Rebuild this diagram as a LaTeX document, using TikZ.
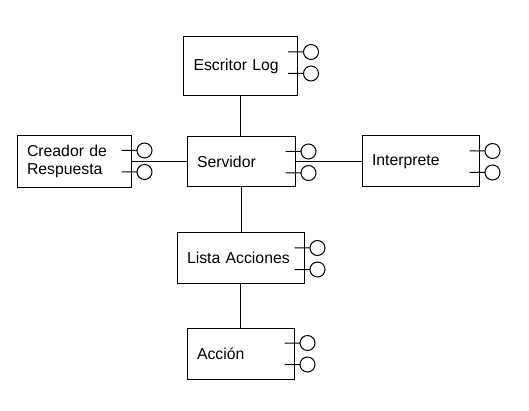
\documentclass[tikz,border=0pt]{standalone}
\usepackage{fontspec}
\setmainfont{Liberation Sans}
\begin{document}
\begin{tikzpicture}[x=1pt, y=-1pt, line width=1pt,
            comp/.style={draw, inner xsep=10pt, align=left, font=\fontsize{15.8}{18}\selectfont}]
                \useasboundingbox (0,0) rectangle (529,411);
                \node[comp, text width=94pt, minimum height=59pt](log) at (240.5, 66.5) {Escritor Log};
                \node[comp, text width=88pt, minimum height=50pt](serv) at (241, 161.5) {Servidor};
                \node[comp, text width=94pt, minimum height=52pt](cre) at (74, 161.5) {Creador de\\Respuesta};
                \node[comp, text width=97pt, minimum height=51pt](int) at (420.5, 161.5) {Interprete};
                \node[comp, text width=107pt, minimum height=50pt](lista) at (240.5, 258) {Lista Acciones};
                \node[comp, text width=87pt, minimum height=51pt](acc) at (240.5, 353.5) {Acci\'on};

            % puertos
            \foreach \b in {log, serv, cre, int, lista, acc}
                \foreach \dy in {15.5, 37}
                    \draw ([xshift=-10pt, yshift=-\dy pt]\b.north east) -- ++(15.5,0) ++(7.5,0) circle[radius=7.5];

            \begin{scope}[line width=1pt]
                \draw (log.south) -- (log.south |- serv.north);
                \draw (cre) -- (serv);
                \draw (serv) -- (int);
                \draw (serv.south) -- (serv.south |- lista.north);
                \draw (lista) -- (acc);
            \end{scope}
        \end{tikzpicture}
\end{document}
